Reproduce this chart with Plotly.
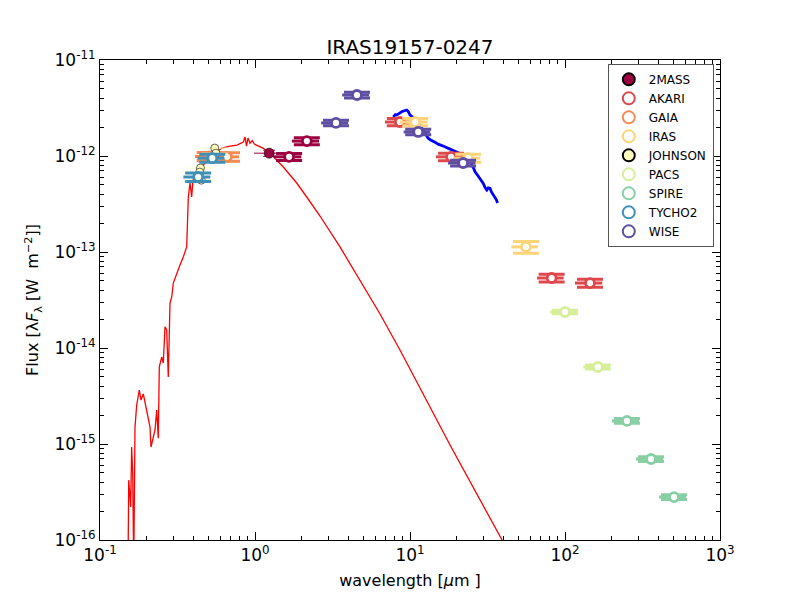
import plotly.graph_objects as go

# ---- data (wavelength in micron, flux in W m^-2) ----
model_wl = [0.1516, 0.1532, 0.1578, 0.160, 0.1626, 0.165, 0.1682, 0.1725, 0.1793, 0.1838,
            0.1902, 0.1951, 0.2049, 0.2102, 0.2133, 0.2198, 0.2264, 0.2322, 0.2377, 0.2413,
            0.250, 0.256, 0.2627, 0.2693, 0.2758, 0.2829, 0.2902, 0.2971, 0.3125, 0.3282,
            0.3446, 0.3625, 0.3713, 0.3807, 0.3904, 0.398, 0.4225, 0.4756, 0.5358, 0.6098,
            0.6898, 0.7653, 0.8404, 0.8619, 0.8813, 0.9012, 0.9284, 0.96, 0.99, 1.026, 1.126, 1.25,
            1.38, 1.523, 1.682, 1.858, 2.156, 2.626, 3.535, 4.756, 6.405, 8.616, 18.12, 39.24, 45.5]
model_fl = [5e-17, 4.2e-16, 2.21e-16, 9.3e-16, 4.99e-16, 5e-17, 1.5e-15, 2.55e-15, 3.65e-15, 2.87e-15,
            3.32e-15, 2.67e-15, 1.87e-15, 1.5e-15, 9.3e-16, 1.18e-15, 1.4e-15, 2.26e-15, 1.15e-15, 6.34e-15,
            8.05e-15, 6.98e-15, 1.66e-14, 1.54e-14, 4.99e-15, 2.94e-14, 3.4e-14, 4.75e-14, 6.04e-14, 7.32e-14,
            8.87e-14, 1.13e-13, 3.74e-13, 5.23e-13, 3.74e-13, 5.62e-13, 6.81e-13, 8.45e-13, 1.02e-12, 1.21e-12,
            1.27e-12, 1.30e-12, 1.40e-12, 1.58e-12, 1.27e-12, 1.54e-12, 1.36e-12, 1.45e-12, 1.33e-12, 1.30e-12,
            1.21e-12, 1.07e-12,
            9.08e-13, 7.68e-13, 6.34e-13, 5.23e-13, 3.74e-13, 2.37e-13, 1.13e-13, 5.11e-14, 2.26e-14, 9.53e-15,
            9.77e-16, 1e-16, 6.3e-17]

spec_wl = [7.80, 8.05, 8.20, 8.50, 8.84, 9.20, 9.52, 9.75, 10.0, 10.4, 10.77, 11.2, 11.6, 12.1, 12.5,
           13.1, 13.6, 14.1, 14.6, 15.2, 16.0, 16.8, 17.7, 18.6, 19.5, 20.5, 21.3, 22.1, 23.0, 23.8,
           24.4, 25.0, 25.6, 26.3, 27.3, 28.3, 29.0, 29.7, 30.5, 31.3, 32.0, 32.8, 33.6, 34.5, 35.5, 36.1, 36.7]
spec_fl = [2.55e-12, 2.70e-12, 2.67e-12, 2.80e-12, 2.89e-12, 2.96e-12, 3.01e-12, 2.90e-12, 2.67e-12, 2.55e-12,
           2.37e-12, 2.22e-12, 2.10e-12, 1.90e-12, 1.72e-12, 1.53e-12, 1.47e-12, 1.41e-12, 1.38e-12, 1.33e-12,
           1.30e-12, 1.25e-12, 1.20e-12, 1.15e-12, 1.12e-12, 1.08e-12, 1.05e-12, 1.02e-12, 9.9e-13, 9.46e-13,
           8.6e-13, 8.06e-13, 7.6e-13, 6.86e-13, 6.3e-13, 5.86e-13, 5.5e-13, 5.19e-13, 4.7e-13, 4.42e-13,
           4.65e-13, 4.61e-13, 4.2e-13, 3.92e-13, 3.75e-13, 3.5e-13, 3.24e-13]

twomass_j_wl = [1.235]
twomass_j_fl = [1.07e-12]
twomass_j_xerr = [0.25]
twomass_j_yerr = [0.08e-12]
twomass_wl = [1.66, 2.16]
twomass_fl = [9.8e-13, 1.43e-12]
twomass_xerr = [0.33, 0.43]
twomass_yerr = [0.08e-12, 0.12e-12]

akari_wl = [8.6, 18.4, 82.0, 145.0]
akari_fl = [2.26e-12, 9.8e-13, 5.36e-14, 4.75e-14]
akari_xerr = [1.7, 3.7, 16.0, 29.0]
akari_yerr = [0.20e-12, 0.09e-12, 0.5e-14, 0.45e-14]

gaia_wl = [0.51, 0.66]
gaia_fl = [9.9e-13, 9.8e-13]
gaia_xerr = [0.10, 0.13]
gaia_yerr = [0.10e-12, 0.10e-12]

iras_wl = [10.8, 23.7, 56.0]
iras_fl = [2.26e-12, 9.5e-13, 1.13e-13]
iras_xerr = [2.2, 4.7, 11.0]
iras_yerr = [0.2e-12, 0.09e-12, 0.16e-13]

johnson_wl = [0.55, 0.56, 0.445, 0.44, 0.45]
johnson_fl = [1.21e-12, 1.07e-12, 7.5e-13, 6.8e-13, 5.6e-13]
johnson_xerr = [0.11, 0.11, 0.09, 0.09, 0.09]

pacs_wl = [100.0, 163.0]
pacs_fl = [2.37e-14, 6.34e-15]
pacs_xerr = [20.0, 32.0]
pacs_yerr = [0.1e-14, 0.3e-15]

spire_wl = [251.0, 359.0, 505.0]
spire_fl = [1.74e-15, 6.98e-16, 2.8e-16]
spire_xerr = [50.0, 72.0, 100.0]
spire_yerr = [0.1e-15, 0.4e-16, 0.16e-16]

tycho_wl = [0.43, 0.53]
tycho_fl = [6.04e-13, 9.5e-13]
tycho_xerr = [0.085, 0.105]
tycho_yerr = [0.6e-13, 0.9e-13]

wise_wl = [3.33, 4.55, 11.3, 22.0]
wise_fl = [2.21e-12, 4.32e-12, 1.78e-12, 8.45e-13]
wise_xerr = [0.66, 0.9, 2.2, 4.4]
wise_yerr = [0.15e-12, 0.3e-12, 0.12e-12, 0.06e-12]

xtick_vals = [0.1, 1, 10, 100, 1000]
xtick_text = ["10<sup>-1</sup>", "10<sup>0</sup>", "10<sup>1</sup>", "10<sup>2</sup>", "10<sup>3</sup>"]
ytick_vals = [1e-16, 1e-15, 1e-14, 1e-13, 1e-12, 1e-11]
ytick_text = ["10<sup>-16</sup>", "10<sup>-15</sup>", "10<sup>-14</sup>", "10<sup>-13</sup>",
              "10<sup>-12</sup>", "10<sup>-11</sup>"]

colors = {'2MASS': '#9e0142', 'AKARI': '#dd484c', 'GAIA': '#f68a50', 'IRAS': '#fed47a',
          'JOHNSON': '#ffffbf', 'PACS': '#d7ef9b', 'SPIRE': '#88cfa4', 'TYCHO2': '#3f8fb7',
          'WISE': '#5e4fa2'}

fig = go.Figure()

fig.add_trace(go.Scatter(x=model_wl, y=model_fl, mode='lines', line=dict(color='red', width=1.3),
                         showlegend=False, hoverinfo='skip'))
fig.add_trace(go.Scatter(x=spec_wl, y=spec_fl, mode='lines', line=dict(color='blue', width=2.8),
                         showlegend=False, hoverinfo='skip'))


def phot(name, wl, fl, xerr, yerr, show=True):
    c = colors[name]
    fig.add_trace(go.Scatter(
        x=wl, y=fl, mode='markers', name=name, legendgroup=name, showlegend=show,
        marker=dict(symbol='circle', size=9, color='white', line=dict(color=c, width=2.8)),
        error_x=dict(type='data', array=xerr, color=c, thickness=3, width=0),
        error_y=dict(type='data', array=yerr, color=c, thickness=3, width=13)))


# 2MASS J plotted filled, with thin bars
fig.add_trace(go.Scatter(
    x=twomass_j_wl, y=twomass_j_fl, mode='markers', name='2MASS', legendgroup='2MASS',
    marker=dict(symbol='circle', size=10, color=colors['2MASS'], line=dict(color='black', width=0.6)),
    error_x=dict(type='data', array=twomass_j_xerr, color=colors['2MASS'], thickness=1, width=0),
    error_y=dict(type='data', array=twomass_j_yerr, color=colors['2MASS'], thickness=1, width=6)))
phot('2MASS', twomass_wl, twomass_fl, twomass_xerr, twomass_yerr, show=False)
phot('AKARI', akari_wl, akari_fl, akari_xerr, akari_yerr)
phot('GAIA', gaia_wl, gaia_fl, gaia_xerr, gaia_yerr)
phot('IRAS', iras_wl, iras_fl, iras_xerr, iras_yerr)
fig.add_trace(go.Scatter(
    x=johnson_wl, y=johnson_fl, mode='markers', name='JOHNSON', legendgroup='JOHNSON',
    marker=dict(symbol='circle', size=8, color=colors['JOHNSON'], line=dict(color='black', width=0.6)),
    error_x=dict(type='data', array=johnson_xerr, color=colors['JOHNSON'], thickness=1, width=0)))
phot('PACS', pacs_wl, pacs_fl, pacs_xerr, pacs_yerr)
phot('SPIRE', spire_wl, spire_fl, spire_xerr, spire_yerr)
phot('TYCHO2', tycho_wl, tycho_fl, tycho_xerr, tycho_yerr)
phot('WISE', wise_wl, wise_fl, wise_xerr, wise_yerr)

minor_x = [m * 10 ** e for e in range(-1, 3) for m in range(2, 10)]
minor_y = [m * 10.0 ** e for e in range(-16, -11) for m in range(2, 10)]

axis_common = dict(showline=True, linecolor='black', linewidth=1, mirror='allticks', automargin=False,
                   ticks='inside', ticklen=8, tickcolor='black', showgrid=False, zeroline=False,
                   tickfont=dict(size=17, color='black'))

fig.update_xaxes(type='log', range=[-1, 3], tickmode='array', tickvals=xtick_vals, ticktext=xtick_text,
                 minor=dict(tickmode='array', tickvals=minor_x, ticks='inside', ticklen=4, tickcolor='black'),
                 title=dict(text='wavelength [<i>μ</i>m ]', font=dict(size=16, color='black'), standoff=10),
                 **axis_common)
fig.update_yaxes(type='log', range=[-16, -11], tickmode='array', tickvals=ytick_vals, ticktext=ytick_text,
                 minor=dict(tickmode='array', tickvals=minor_y, ticks='inside', ticklen=4, tickcolor='black'),
                 title=dict(text='Flux [λ<i>F</i><sub>λ</sub> [W  m<sup>−2</sup>]]', font=dict(size=16, color='black'),
                            standoff=11),
                 **axis_common)

# the page body adds an 8 px offset, so the margins are shifted to put the axes box at (100,60)-(720,540)
fig.update_layout(
    width=800, height=600,
    margin=dict(l=92, r=88, t=52, b=68, autoexpand=False),
    paper_bgcolor='white', plot_bgcolor='white',
    font=dict(family='DejaVu Sans', color='black'),
    title=dict(text='IRAS19157-0247', x=0.5, xanchor='center', xref='paper', y=0.935, yanchor='middle',
               font=dict(size=20, color='black')),
    legend=dict(x=0.99, y=0.992, xanchor='right', yanchor='top', bgcolor='white',
                bordercolor='#555555', borderwidth=1, font=dict(size=12, color='black'),
                tracegroupgap=0, itemsizing='constant', itemwidth=30),
)

fig.write_html("out.html")
